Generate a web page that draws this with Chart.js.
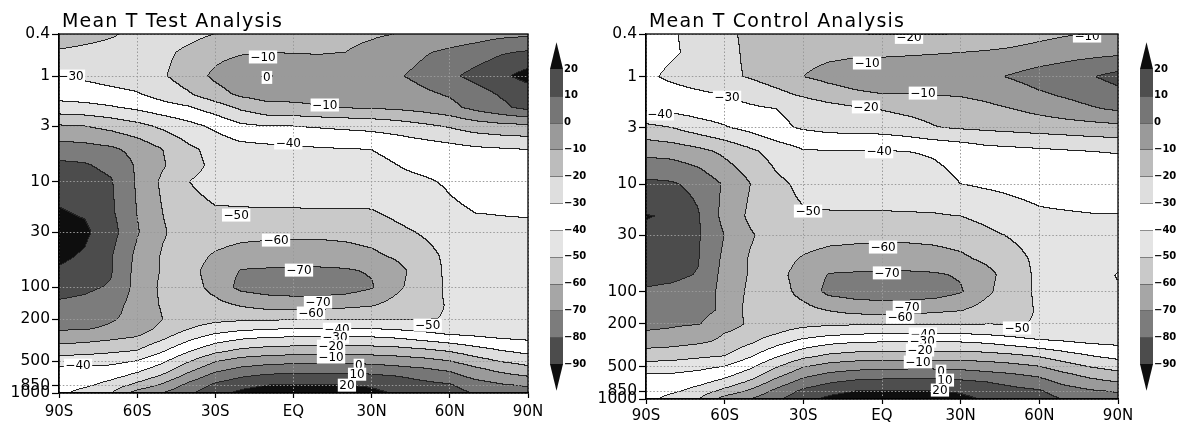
<!DOCTYPE html>
<html><head><meta charset="utf-8">
<script src="https://cdn.jsdelivr.net/npm/chart.js@4.4.0/dist/chart.umd.min.js"></script>
<style>
html,body{margin:0;padding:0;background:#fff;}
#wrap{position:relative;width:1182px;height:425px;overflow:hidden;}
.panel{position:absolute;top:0;width:591px;height:425px;}
</style></head><body>
<div id="wrap">
<div class="panel" style="left:0"><canvas id="c1" width="591" height="425"></canvas></div>
<div class="panel" style="left:591px"><canvas id="c2" width="591" height="425"></canvas></div>
</div>
<script>
// ---------------- DATA ----------------
const latitudes = [-90,-80,-70,-60,-50,-40,-30,-20,-10,0,10,20,30,40,50,60,70,80,90];
const pressureLevels = [0.4,0.6,1,1.5,2,3,5,7,10,20,30,50,70,100,150,200,250,300,400,500,600,700,850,1000];
const contourLevels = [-90,-80,-70,-60,-50,-40,-30,-20,-10,0,10,20];
const colorbarLabels = ['−90','−80','−70','−60','−50','−40','−30','−20','−10','0','10','20'];
const latTicks = [-90,-60,-30,0,30,60,90];
const latTickLabels = ['90S','60S','30S','EQ','30N','60N','90N'];
const pressureTicks = [0.4,1,3,10,30,100,200,500,850,1000];

// Test analysis: rows = pressureLevels, columns = latitudes (deg C)
const testT = [
[-15,-17,-19,-22,-24,-23,-20,-17,-15,-14,-13,-12,-11,-10,-9,-7,-5,-3,-2],
[-21,-22,-23,-24,-22,-18,-13,-11,-10,-10.5,-10.5,-10,-8,-5,-1,2,5,9,11],
[-30,-28,-26,-24,-21,-15,-8,-3,1,-3,-5,-5,-4,-1,3,8,13,18,24],
[-36,-35,-33,-31,-26,-21,-14,-8,-6,-7,-7,-6,-6,-5,-2,1,6,11,14],
[-44,-43,-41,-38,-34,-31,-25,-18,-13,-12,-10.5,-9.5,-9,-8,-6,-3,3,8,13],
[-61,-60,-57,-53,-48,-43,-38,-32,-30,-30,-29,-28,-27,-25,-22,-19,-15,-13,-12],
[-75,-74,-72,-67,-60,-52,-47,-44,-43,-42,-41,-40.5,-40,-38,-36,-34,-32,-31,-30],
[-82,-81,-77,-69,-61,-53,-48,-45,-44,-44,-43,-42.5,-42,-40,-38,-36,-34,-33,-33],
[-86,-85,-81,-69,-58,-50,-47,-46,-45,-46,-45,-44,-43,-42,-41,-39,-37,-36,-35],
[-91,-89,-82,-70,-60,-53,-51,-51,-51,-50.8,-50.8,-51,-51,-48,-45,-41.5,-40,-39.5,-39],
[-94,-92,-84,-71,-61,-55,-55,-56.5,-57,-57.5,-57.5,-57,-55.5,-52,-49,-46,-44,-43,-43],
[-92,-89,-81,-68,-59,-56,-61,-64,-65,-65,-65,-64,-62,-58,-53,-48,-45,-44,-44],
[-89,-87,-81,-67,-59,-57,-64,-70.5,-71,-71.5,-71.5,-71,-69,-63,-55,-48,-46,-45,-45],
[-84,-82,-79,-67,-58,-56,-63,-73,-75,-76,-76,-75,-71,-62,-54,-48.5,-47,-47,-47],
[-78,-77,-74,-66,-59,-56,-57,-60.5,-63.5,-64,-63.5,-62,-60.5,-56,-52,-49.5,-48,-48,-48],
[-75,-74,-71,-67,-60,-55,-53,-52,-51.5,-51.5,-51.5,-51.5,-51,-50.5,-50.5,-49.5,-49,-48,-47],
[-71,-70.5,-68.5,-65,-57,-50,-45,-42,-40.5,-39.6,-39.6,-39.6,-39.6,-41,-43,-46,-46,-46,-46],
[-65,-64,-62,-59.5,-52,-43,-36,-32,-30,-29.5,-29.5,-29.5,-29.5,-31,-34,-37,-39,-41,-42],
[-55,-54,-52,-50,-41,-31,-23,-18,-16,-15,-15,-15,-15,-16,-18,-21,-26,-30,-33],
[-45,-44,-43,-40,-32,-21,-11,-6,-4,-3,-3,-3,-3.5,-5,-7,-10,-16,-21,-24],
[-38,-38,-37,-33,-25,-13,-3,2,4.5,5.5,6,6,5,3,1,-2,-8,-13,-17],
[-38,-37,-33,-27,-18,-6,4,9,12,13,13,13,12,10,7,4,-3,-7,-10],
[-35,-32,-26,-17,-8,3,12,17,20,20.5,20.5,20,19,16,13,11,5,1,-1],
[-33,-26,-20.5,-6,0,8,17,22,25,26,26,25,22,19,16,14,9,6,4]
];

// Control analysis
const controlT = [
[-33,-31,-27,-22,-18,-17,-18,-19,-20,-20.5,-20.5,-20.5,-20,-18,-15,-13,-11,-10,-9],
[-34,-31,-28,-23,-18,-15,-13,-12,-11.5,-11.5,-11,-10.5,-10,-9,-8,-6,-4,-3,-2],
[-32,-28,-25,-22.5,-19,-15,-10,-7,-5,-4,-4,-4,-3.5,-2,1,4,6,9.5,13],
[-35,-34,-32,-30,-27,-23,-19,-15,-12,-10.5,-10.5,-10,-9.5,-8,-5,-1.5,1,4,7],
[-38.5,-37,-35,-33.5,-31.5,-30,-27,-24,-21.5,-19.5,-17.5,-16,-14,-12,-10,-7,-4,-1,1.5],
[-53,-50,-45,-41,-37,-32,-29,-27,-26.5,-26,-24,-20.5,-19,-18,-17,-16,-15,-14,-13],
[-67,-66,-63,-58,-52,-46,-41,-40.5,-40.5,-40.5,-40,-39,-37,-34,-33,-32,-31,-30,-29.5],
[-75,-74,-70,-63,-56,-49,-45,-44,-44,-44,-43,-41,-38.5,-37,-36,-35,-34,-33.5,-33],
[-82,-81,-77,-69,-60,-52,-48,-46.5,-46,-46,-45,-43,-40,-38.5,-37.5,-36.5,-35.5,-35,-35],
[-90.5,-89,-81,-67,-58,-53,-51,-50.8,-50.8,-50.8,-50.8,-50.8,-50,-47.5,-44,-41.5,-41,-40.5,-40.5],
[-88,-86,-81,-70,-61,-55,-55,-56.5,-57,-57.5,-57.5,-57,-55.5,-52,-49,-46,-44,-43,-43],
[-85,-84,-80.5,-68,-59,-56,-61,-64,-65,-65,-65,-64,-62,-58,-53,-48,-45,-44,-44],
[-83,-82,-79.5,-67,-59,-57,-64,-70.5,-71,-71.5,-71.5,-71,-69,-63,-55,-48,-46,-44,-39.5],
[-79,-78,-76,-67,-58,-56,-63,-73,-75,-76,-76,-75,-71,-62,-54,-48.5,-47,-46,-41],
[-75,-74,-72,-69,-56,-56,-57,-60.5,-63.5,-64,-63.5,-62,-60.5,-56,-52,-49.5,-48,-48,-47.5],
[-72,-71,-70.5,-66,-58,-55,-53,-52,-51.5,-51.5,-51.5,-51.5,-51,-50.5,-50.5,-49.5,-49,-48,-47],
[-69,-68.5,-66,-59.5,-55,-50,-45,-42,-40.5,-39.6,-39.6,-39.6,-39.6,-41,-43,-46,-46,-46,-46],
[-64,-63,-61,-58,-51,-43,-36,-32,-30,-29.5,-29.5,-29.5,-29.5,-31,-34,-37,-39,-41,-42],
[-55,-54,-52,-50,-41,-31,-23,-18,-16,-15,-15,-15,-15,-16,-18,-21,-26,-30,-33],
[-46,-45,-43,-40,-32,-21,-11,-6,-4,-3,-3,-3,-3.5,-5,-7,-10,-16,-21,-24],
[-39,-39,-37,-33,-25,-13,-3,2,4.5,5.5,6,6,5,3,1,-2,-8,-13,-17],
[-39,-37,-33,-27,-18,-6,4,9,12,13,13,13,12,10,7,4,-3,-7,-10],
[-36,-32,-26,-17,-8,3,12,17,20,20.5,20.5,20,19,16,13,11,5,1,-1],
[-34,-26,-20.5,-6,0,8,17,22,25,26,26,25,22,19,16,14,9,6,4]
];

// contour labels (lat, pressure, text)
const testLabels = [
{lat:-85.4,p:1.0,t:'−30'},{lat:-11.7,p:0.66,t:'−10'},{lat:-10.2,p:1.03,t:'0'},
{lat:12,p:1.88,t:'−10'},{lat:-2,p:4.3,t:'−40'},{lat:-22,p:20.7,t:'−50'},
{lat:-6.7,p:35.7,t:'−60'},{lat:2.1,p:68.7,t:'−70'},{lat:9.4,p:138,t:'−70'},
{lat:6.7,p:175,t:'−60'},{lat:51.5,p:228,t:'−50'},{lat:16.7,p:249,t:'−40'},
{lat:15.9,p:296,t:'−30'},{lat:14.4,p:360,t:'−20'},{lat:14.4,p:458,t:'−10'},
{lat:25.1,p:546,t:'0'},{lat:24.4,p:664,t:'10'},{lat:20.5,p:843,t:'20'},
{lat:-82.7,p:545,t:'−40'}
];
const controlLabels = [
{lat:-59.1,p:1.55,t:'−30'},{lat:-84.7,p:2.22,t:'−40'},{lat:-5.7,p:0.745,t:'−10'},
{lat:-6.1,p:1.91,t:'−20'},{lat:-28.2,p:17.8,t:'−50'},{lat:10.3,p:0.43,t:'−20'},
{lat:15.6,p:1.42,t:'−10'},{lat:-1.1,p:5.0,t:'−40'},{lat:78.2,p:0.418,t:'−10'},
{lat:0.4,p:38.5,t:'−60'},{lat:1.9,p:67,t:'−70'},{lat:9.5,p:139,t:'−70'},
{lat:6.9,p:173,t:'−60'},{lat:51.5,p:218,t:'−50'},{lat:15.6,p:248,t:'−40'},
{lat:15.3,p:289,t:'−30'},{lat:14.5,p:350,t:'−20'},{lat:13.7,p:453,t:'−10'},
{lat:22.5,p:550,t:'0'},{lat:24,p:667,t:'10'},{lat:22.1,p:826,t:'20'}
];

// ---------------- STYLE ----------------
const bandGrays = [14, 76, 124, 166, 201, 228, 255, 222, 188, 154, 118, 78, 14];
const FONT = '"DejaVu Sans", "Liberation Sans", sans-serif';
const logLevels = pressureLevels.map(Math.log10);

function bandOf(v){ let k=0; while(k<contourLevels.length && v>=contourLevels[k]) k++; return k; }
function locate(arr, v){
  let k=0; while(k<arr.length-2 && v>arr[k+1]) k++;
  let t=(v-arr[k])/(arr[k+1]-arr[k]); if(t<0)t=0; if(t>1)t=1; return [k,t];
}

const fieldPlugin = {
  id:'tfield',
  beforeDraw(chart){
    const o = chart.options.plugins.tfield; if(!o) return;
    const F = o.field;
    const {ctx, chartArea:a} = chart; const xs = chart.scales.x, ys = chart.scales.y;
    const dpr = chart.currentDevicePixelRatio || 1;
    const W = Math.round(a.width*dpr), H = Math.round(a.height*dpr);
    const off = document.createElement('canvas'); off.width=W; off.height=H;
    const octx = off.getContext('2d'); const img = octx.createImageData(W,H);
    const ci=new Int32Array(W), ct=new Float32Array(W), rj=new Int32Array(H), rs=new Float32Array(H);
    for(let i=0;i<W;i++){ const r=locate(latitudes, xs.getValueForPixel(a.left+(i+0.5)/dpr)); ci[i]=r[0]; ct[i]=r[1]; }
    for(let j=0;j<H;j++){ const r=locate(logLevels, Math.log10(ys.getValueForPixel(a.top+(j+0.5)/dpr))); rj[j]=r[0]; rs[j]=r[1]; }
    const band = new Uint8Array(W*H);
    for(let j=0;j<H;j++){
      const r0=F[rj[j]], r1=F[rj[j]+1], s=rs[j];
      for(let i=0;i<W;i++){
        const k=ci[i], t=ct[i];
        const v=(1-s)*((1-t)*r0[k]+t*r0[k+1]) + s*((1-t)*r1[k]+t*r1[k+1]);
        band[j*W+i]=bandOf(v);
      }
    }
    const d=img.data;
    for(let j=0;j<H;j++) for(let i=0;i<W;i++){
      const idx=j*W+i, b=band[idx]; let g=bandGrays[b];
      if((i<W-1 && band[idx+1]!==b) || (j<H-1 && band[idx+W]!==b)) g=35;
      d[idx*4]=g; d[idx*4+1]=g; d[idx*4+2]=g; d[idx*4+3]=255;
    }
    octx.putImageData(img,0,0);
    ctx.save(); ctx.drawImage(off, a.left, a.top, a.width, a.height); ctx.restore();
  },
  afterDraw(chart){
    const o = chart.options.plugins.tfield; if(!o) return;
    const {ctx, chartArea:a} = chart; const xs = chart.scales.x, ys = chart.scales.y;
    // frame
    ctx.save(); ctx.strokeStyle='#000'; ctx.lineWidth=1.3;
    ctx.strokeRect(a.left, a.top, a.width, a.height); ctx.restore();
    // contour labels
    ctx.save(); ctx.beginPath(); ctx.rect(a.left+1,a.top+1,a.width-2,a.height-2); ctx.clip();
    ctx.font='12px '+FONT; ctx.textAlign='center'; ctx.textBaseline='middle';
    for(const L of o.labels){
      const x=xs.getPixelForValue(L.lat), y=ys.getPixelForValue(L.p);
      const w=ctx.measureText(L.t).width+3;
      ctx.fillStyle='#fff'; ctx.fillRect(x-w/2, y-6.5, w, 13);
      ctx.fillStyle='#000'; ctx.fillText(L.t, x, y+0.5);
    }
    ctx.restore();
    // title
    ctx.save(); ctx.font='19px '+FONT; ctx.fillStyle='#000'; ctx.textBaseline='alphabetic';
    try{ ctx.letterSpacing='1.2px'; }catch(e){}
    ctx.fillText(o.title, a.left+3, 27); ctx.restore();
    // colorbar
    const x0=a.right+22, w=13, yTop=a.top+35, yBot=a.top+330;
    const nb=contourLevels.length-1;
    const yFor=v=>yBot-(v-contourLevels[0])/(contourLevels[nb]-contourLevels[0])*(yBot-yTop);
    const bh=(yBot-yTop)/nb;
    ctx.save();
    for(let k=1;k<=nb;k++){
      const y1=yFor(contourLevels[k]), y2=yFor(contourLevels[k-1]);
      const g=bandGrays[k]; ctx.fillStyle=`rgb(${g},${g},${g})`;
      ctx.fillRect(x0, y1, w, y2-y1+0.5);
    }
    let g=bandGrays[nb+1]; ctx.fillStyle=`rgb(${g},${g},${g})`;
    ctx.beginPath(); ctx.moveTo(x0,yTop); ctx.lineTo(x0+w,yTop); ctx.lineTo(x0+w/2,yTop-bh); ctx.closePath(); ctx.fill();
    g=bandGrays[0]; ctx.fillStyle=`rgb(${g},${g},${g})`;
    ctx.beginPath(); ctx.moveTo(x0,yBot); ctx.lineTo(x0+w,yBot); ctx.lineTo(x0+w/2,yBot+bh); ctx.closePath(); ctx.fill();
    ctx.strokeStyle='rgba(60,60,60,0.55)'; ctx.lineWidth=1;
    for(let k=1;k<nb;k++){ const y=Math.round(yFor(contourLevels[k]))+0.5; ctx.beginPath(); ctx.moveTo(x0,y); ctx.lineTo(x0+w,y); ctx.stroke(); }
    ctx.font='bold 10px '+FONT; ctx.fillStyle='#000'; ctx.textAlign='left'; ctx.textBaseline='middle';
    for(let k=0;k<=nb;k++) ctx.fillText(colorbarLabels[k], x0+w+1, yFor(contourLevels[k]));
    ctx.restore();
  }
};

function gridPoints(F){
  const pts=[]; F.forEach((row,j)=>row.forEach((v,i)=>pts.push({x:latitudes[i], y:pressureLevels[j], v})));
  return pts;
}

function makeChart(id, field, labels, title, geom){
  return new Chart(document.getElementById(id), {
    type:'scatter',
    data:{datasets:[{data:gridPoints(field), pointRadius:0, pointHoverRadius:0, showLine:false}]},
    plugins:[fieldPlugin],
    options:{
      responsive:false, animation:false, events:[],
      layout:{padding:{left:0, top:34, right:geom.right, bottom:0}},
      plugins:{legend:{display:false}, tooltip:{enabled:false}, title:{display:false},
        tfield:{field, labels, title}},
      scales:{
        x:{type:'linear', min:-90, max:90,
          afterBuildTicks:s=>{ s.ticks = latTicks.map(v=>({value:v})); },
          afterFit:s=>{ s.height=geom.xh; },
          ticks:{autoSkip:false, maxRotation:0, padding:geom.xpad, color:'#000',
            font:{family:FONT, size:15},
            callback:v=>latTickLabels[latTicks.indexOf(v)] ?? ''},
          grid:{color:'#9a9a9a', lineWidth:1, tickLength:5, tickColor:'#000', tickWidth:1.2},
          border:{display:true, color:'#000', width:1.3, dash:[1.5,2]}
        },
        y:{type:'logarithmic', reverse:true, min:0.4, max:1000,
          afterBuildTicks:s=>{ s.ticks = pressureTicks.map(v=>({value:v})); },
          afterFit:s=>{ s.width=geom.yw; },
          ticks:{autoSkip:false, padding:2, color:'#000', font:{family:FONT, size:15.5},
            callback:v=>String(v)},
          grid:{color:'#9a9a9a', lineWidth:1, tickLength:7, tickColor:'#000', tickWidth:1.2},
          border:{display:true, color:'#000', width:1.3, dash:[1.5,2]}
        }
      }
    }
  });
}

makeChart('c1', testT, testLabels, 'Mean T Test Analysis', {right:63, xh:32, yw:59, xpad:5});
makeChart('c2', controlT, controlLabels, 'Mean T Control Analysis', {right:64, xh:26, yw:55, xpad:3});
</script>
</body></html>
